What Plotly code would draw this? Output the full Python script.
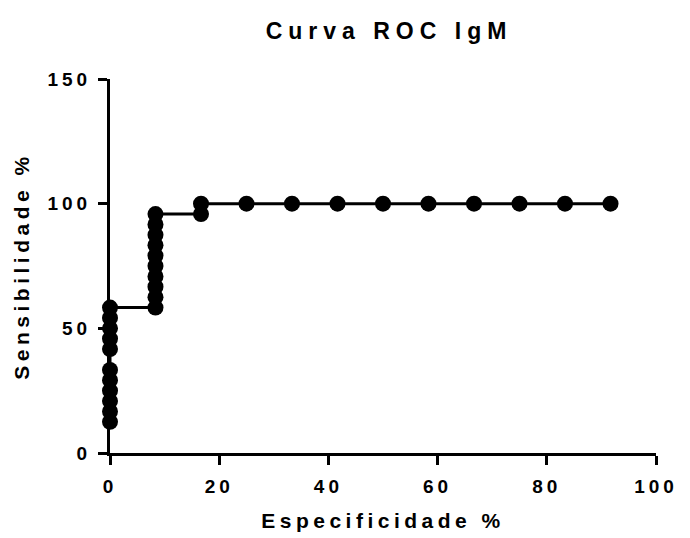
import plotly.graph_objects as go

# ROC points (100 - specificity %, sensitivity %)
x_vals = [0, 0, 0, 0, 0, 0, 0, 0, 0, 0, 0,
          8.33, 8.33, 8.33, 8.33, 8.33, 8.33, 8.33, 8.33, 8.33, 8.33,
          16.67, 16.67,
          25, 33.33, 41.67, 50, 58.33, 66.67, 75, 83.33, 91.67]
y_vals = [12.5, 16.67, 20.83, 25, 29.17, 33.33, 41.67, 45.83, 50, 54.17, 58.33,
          58.33, 62.5, 66.67, 70.83, 75, 79.17, 83.33, 87.5, 91.67, 95.83,
          95.83, 100,
          100, 100, 100, 100, 100, 100, 100, 100, 100]

x_ticks = [0, 20, 40, 60, 80, 100]
y_ticks = [0, 50, 100, 150]

title_text = "Curva ROC IgM"
x_title = "Especificidade %"
y_title = "Sensibilidade %"

FONT = "Liberation Sans, Arial, sans-serif"


def spaced(t, px):
    return '<span style="letter-spacing:%spx">%s</span>' % (px, t)


fig = go.Figure()
fig.add_trace(go.Scatter(
    x=x_vals, y=y_vals, mode="lines+markers",
    line=dict(color="black", width=3),
    marker=dict(color="black", size=16),
    showlegend=False, cliponaxis=False,
))

fig.update_layout(
    width=690, height=538,
    margin=dict(l=110, r=34, t=79, b=85),
    paper_bgcolor="white", plot_bgcolor="white",
    font=dict(family=FONT, color="black", size=18, weight="bold"),
    title=dict(text=spaced(title_text, 6), x=389 / 690, xanchor="center",
               y=1 - 31 / 538, yanchor="middle",
               font=dict(size=23, family=FONT, color="black", weight="bold")),
)
fig.update_xaxes(
    range=[0, 100], tickmode="array", tickvals=x_ticks,
    ticktext=[spaced(str(v), 4) for v in x_ticks],
    showline=True, linecolor="black", linewidth=3,
    ticks="outside", ticklen=9, tickwidth=3, tickcolor="black",
    ticklabelstandoff=5, automargin=False,
    showgrid=False, zeroline=False,
    tickfont=dict(size=19, family=FONT, weight="bold"),
    title=dict(text=spaced(x_title, 4.5), standoff=18,
               font=dict(size=21, family=FONT, weight="bold")),
)
fig.update_yaxes(
    range=[0, 150], tickmode="array", tickvals=y_ticks,
    ticktext=[spaced(str(v), 4) for v in y_ticks],
    showline=True, linecolor="black", linewidth=3,
    ticks="outside", ticklen=9, tickwidth=3, tickcolor="black",
    ticklabelstandoff=3, automargin=False,
    showgrid=False, zeroline=False,
    tickfont=dict(size=19, family=FONT, weight="bold"),
    title=dict(text=spaced(y_title, 4.5), standoff=13,
               font=dict(size=21, family=FONT, weight="bold")),
)

fig.write_html("out.html")
